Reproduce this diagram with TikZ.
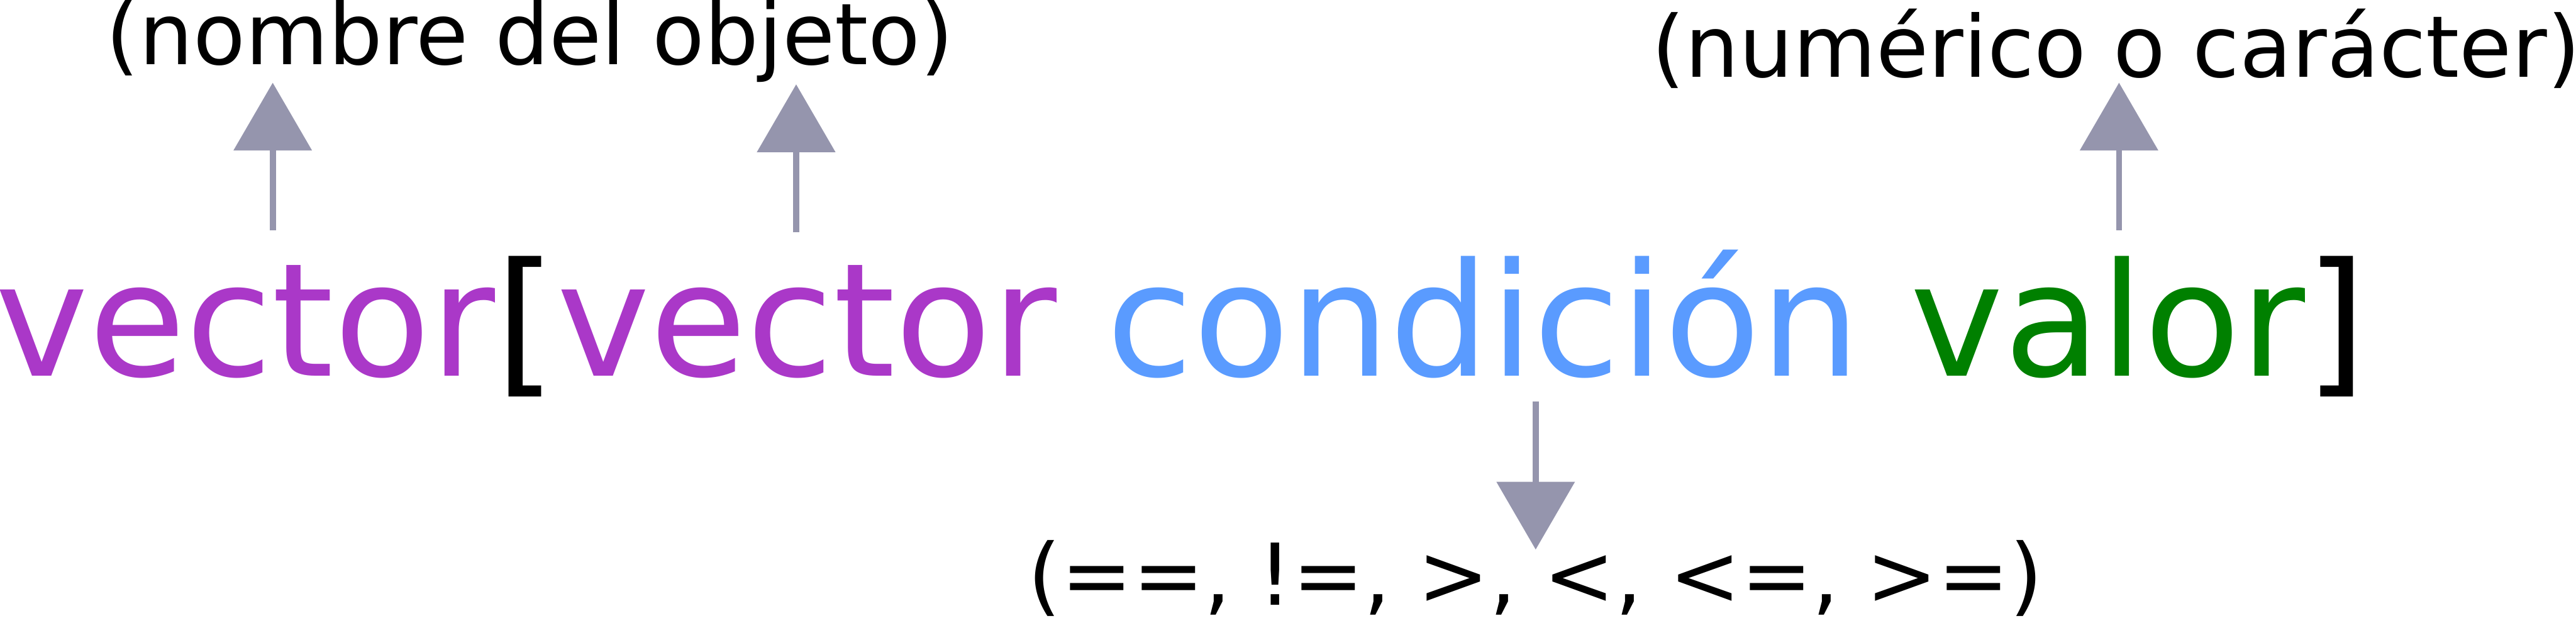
\documentclass[tikz,border=0pt]{standalone}
\usepackage{fontspec}
\setmainfont{DejaVu Sans}
\usetikzlibrary{arrows.meta, positioning}
\definecolor{colobj}{RGB}{170,56,200}
\definecolor{colcond}{RGB}{90,155,255}
\definecolor{colval}{RGB}{0,128,0}
\definecolor{colarrow}{RGB}{149,149,173}

\begin{document}
\begin{tikzpicture}[
  expr/.style={inner sep=0pt, anchor=base west,
               font=\fontsize{110pt}{132pt}\selectfont},
  note/.style={inner sep=0pt, anchor=base,
               font=\fontsize{59.5pt}{72pt}\selectfont},
  pointer/.style={-{Triangle[length=1.66cm, width=1.93cm, line width=0pt]},
                  line width=0.15cm, colarrow}
]
\useasboundingbox (0,0) rectangle (63.19,-15.26);

% Indexing expression
\node[expr] (idx) at (-0.12,-9.22)
    {\textcolor{colobj}{vector}[\textcolor{colobj}{vector}
     \textcolor{colcond}{condición} \textcolor{colval}{valor}]};

% Notes
\node[note] (objname) at (13.00,-1.575) {(nombre del objeto)};
\node[note] (valtype) at (51.91,-1.89)  {(numérico o carácter)};
\node[note] (oplist)  at (37.66,-14.83) {(==, !=, >, <, <=, >=)};

% Arrow ends
\coordinate (obj1-s) at (6.69,-5.65);
\coordinate (obj1-t) at (6.69,-2.03);
\coordinate (obj2-s) at (19.53,-5.70);
\coordinate (obj2-t) at (19.53,-2.07);
\coordinate (val-s)  at (51.98,-5.64);
\coordinate (val-t)  at (51.98,-2.03);
\coordinate (cond-s) at (37.67,-9.84);
\coordinate (cond-t) at (37.67,-13.47);

\draw[pointer] (obj1-s) -- (obj1-t);
\draw[pointer] (obj2-s) -- (obj2-t);
\draw[pointer] (val-s) -- (val-t);
\draw[pointer] (cond-s) -- (cond-t);
\end{tikzpicture}
\end{document}
